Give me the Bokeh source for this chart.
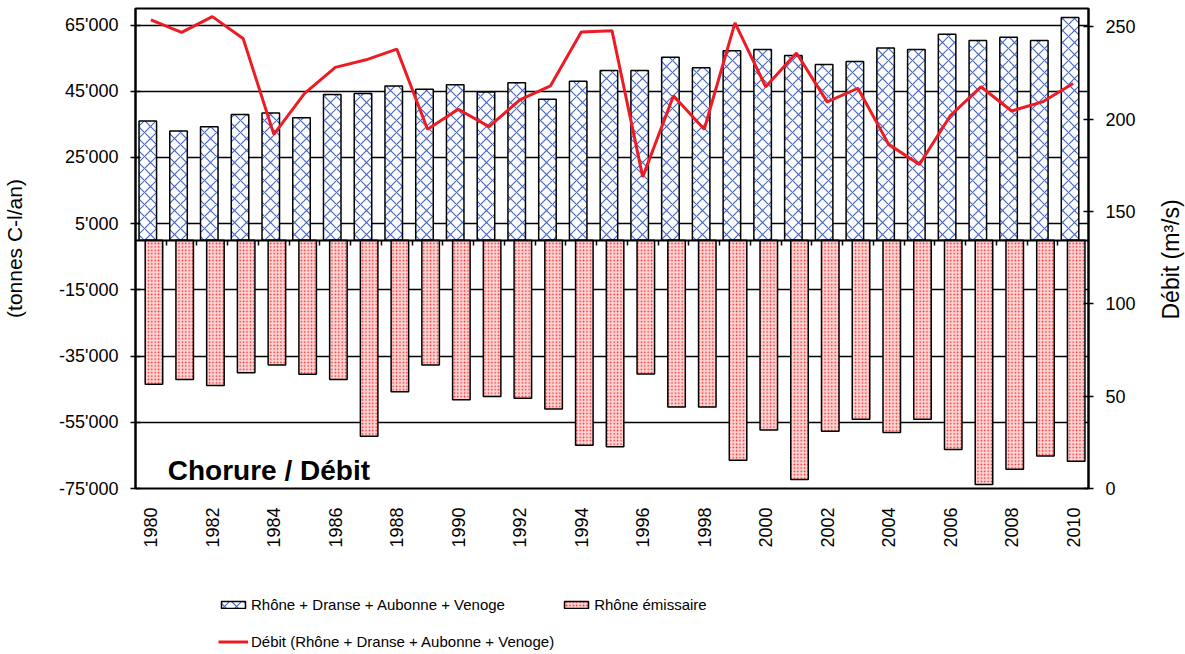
import math
from bokeh.plotting import figure
from bokeh.layouts import row, column
from bokeh.models import (ColumnDataSource, Range1d, LinearAxis, FixedTicker,
                          Legend, LegendItem, Label)
from bokeh.transform import dodge
from bokeh.embed import file_html
from bokeh.resources import INLINE

# ---------------- data ----------------
years = [1980, 1981, 1982, 1983, 1984, 1985, 1986, 1987, 1988, 1989,
         1990, 1991, 1992, 1993, 1994, 1995, 1996, 1997, 1998, 1999,
         2000, 2001, 2002, 2003, 2004, 2005, 2006, 2007, 2008, 2009, 2010]

# Rhône + Dranse + Aubonne + Venoge (tonnes Cl-/an)
apports = [36000, 33000, 34300, 38000, 38400, 37000, 44000, 44300, 46600, 45600,
           47000, 44800, 47600, 42600, 48000, 51300, 51300, 55300, 52100, 57200,
           57600, 55800, 53100, 54000, 58100, 57600, 62200, 60300, 61300, 60300,
           67300]

# Rhône émissaire (tonnes Cl-/an, sortie)
emissaire = [-43500, -42100, -43900, -40000, -37700, -40500, -42100, -59200, -45800, -37700,
             -48200, -47200, -47700, -51000, -61900, -62400, -40400, -50400, -50400, -66500,
             -57300, -72300, -57700, -54100, -58100, -54100, -63200, -73800, -69200, -65200,
             -66800]

# Débit (m3/s)
debit = [253.8, 247.1, 255.6, 243.8, 191.8, 214.0, 228.1, 232.2, 238.0, 194.6,
         205.4, 196.0, 210.5, 218.1, 247.3, 248.0, 168.8, 212.7, 194.6, 252.2,
         217.6, 235.9, 209.4, 216.8, 186.4, 175.5, 201.8, 217.6, 204.5, 209.4,
         219.4]

left_ticks = [-75000, -55000, -35000, -15000, 5000, 25000, 45000, 65000]
left_labels = ["-75'000", "-55'000", "-35'000", "-15'000", "5'000", "25'000", "45'000", "65'000"]
right_ticks = [0, 50, 100, 150, 200, 250]
year_ticks = [1980, 1982, 1984, 1986, 1988, 1990, 1992, 1994, 1996, 1998,
              2000, 2002, 2004, 2006, 2008, 2010]

label_blue = "Rhône + Dranse + Aubonne + Venoge"
label_red = "Rhône émissaire"
label_line = "Débit (Rhône + Dranse + Aubonne + Venoge)"
chart_title = "Chorure / Débit"
y_left_title = "(tonnes C-l/an)"
y_right_title = "Débit (m³/s)"

FONT = "Liberation Sans"

BLUE_STYLE = dict(fill_color="white", hatch_pattern="diagonal_cross", hatch_color="#4a68c0",
                  hatch_scale=12, hatch_weight=1.2, line_color="black", line_width=1.5)
RED_STYLE = dict(fill_color="#ffd6d6", hatch_pattern="dot", hatch_color="#f42a2a",
                 hatch_scale=3.4, hatch_weight=2.5, line_color="black", line_width=1.5)
LINE_STYLE = dict(line_color="#ed1c24", line_width=3)

src = ColumnDataSource(dict(year=years, apports=apports, emissaire=emissaire, debit=debit))

TOP_H = 570

p = figure(width=1150, height=TOP_H, output_backend="svg", toolbar_location=None,
           x_range=Range1d(years[0] - 0.5, years[-1] + 0.5),
           y_range=Range1d(-75000, 70000),
           x_axis_location=None, y_axis_location="left",
           min_border_left=135, min_border_right=62,
           min_border_top=8, min_border_bottom=TOP_H - 488)
p.extra_y_ranges = {"right": Range1d(0, 260)}
p.outline_line_color = "black"
p.outline_line_width = 2
p.background_fill_color = "white"
p.xgrid.visible = False

# left axis
lt = FixedTicker(ticks=left_ticks)
ya = p.yaxis[0]
ya.ticker = lt
ya.major_label_overrides = {t: l for t, l in zip(left_ticks, left_labels)}
ya.minor_tick_line_color = None
ya.major_tick_in = 5
ya.major_tick_out = 5
ya.major_tick_line_width = 1.5
ya.axis_line_width = 2
ya.axis_line_color = "black"
ya.major_label_standoff = 12
ya.major_label_text_font = FONT
ya.major_label_text_font_size = "18px"
ya.major_label_text_color = "black"
ya.axis_label = y_left_title
ya.axis_label_text_font = FONT
ya.axis_label_text_font_size = "21px"
ya.axis_label_text_font_style = "normal"
ya.axis_label_text_color = "black"
ya.axis_label_standoff = 30
p.ygrid.ticker = lt
p.ygrid.grid_line_color = "black"
p.ygrid.grid_line_width = 1.5

# right axis
ra = LinearAxis(y_range_name="right", ticker=FixedTicker(ticks=right_ticks))
ra.minor_tick_line_color = None
ra.major_tick_in = 5
ra.major_tick_out = 5
ra.major_tick_line_width = 1.5
ra.axis_line_width = 2
ra.axis_line_color = "black"
ra.major_label_standoff = 12
ra.major_label_text_font = FONT
ra.major_label_text_font_size = "18px"
ra.major_label_text_color = "black"
p.add_layout(ra, "right")

# bottom year labels
xa = LinearAxis(ticker=FixedTicker(ticks=year_ticks))
xa.major_label_overrides = {y: str(y) for y in year_ticks}
xa.major_label_orientation = math.pi / 2
xa.axis_line_color = None
xa.major_tick_line_color = None
xa.minor_tick_line_color = None
xa.major_label_standoff = 13
xa.major_label_text_font = FONT
xa.major_label_text_font_size = "18px"
xa.major_label_text_color = "black"
p.add_layout(xa, "below")

# zero-line axis with ticks between categories
za = LinearAxis(fixed_location=0, ticker=FixedTicker(ticks=[y + 0.5 for y in years[:-1]]))
za.axis_line_width = 2
za.axis_line_color = "black"
za.major_tick_in = 0
za.major_tick_out = 5
za.major_tick_line_width = 1.5
za.major_tick_line_color = "black"
za.minor_tick_line_color = None
za.major_label_text_font_size = "1px"
za.major_label_text_color = None
za.major_label_standoff = 0
p.add_layout(za, "below")

# bars and line
p.vbar(x=dodge("year", -0.1), top="apports", bottom=0, width=0.57, source=src, **BLUE_STYLE)
p.vbar(x=dodge("year", 0.1), top=0, bottom="emissaire", width=0.57, source=src, **RED_STYLE)
p.line(x="year", y="debit", y_range_name="right", source=src, **LINE_STYLE)

p.add_layout(Label(x=1980.55, y=-69500, text=chart_title, text_font=FONT,
                   text_font_size="28px", text_font_style="bold",
                   text_baseline="alphabetic", text_color="black"))

# narrow side figure carrying the right axis title (reads bottom-to-top)
p2 = figure(width=35, height=TOP_H, output_backend="svg", toolbar_location=None,
            x_range=Range1d(0, 35), y_range=Range1d(0, TOP_H),
            x_axis_location=None, y_axis_location=None,
            min_border_left=0, min_border_right=0, min_border_top=0, min_border_bottom=0)
p2.outline_line_color = None
p2.grid.visible = False
p2.add_layout(Label(x=20, y=272, angle=math.pi / 2, text=y_right_title, text_font=FONT,
                    text_font_size="23px", text_align="center", text_baseline="middle",
                    text_color="black"))

# legend strip below the chart (its renderers are hidden; only the legend shows)
LEG_H = 654 - TOP_H
pl = figure(width=1185, height=LEG_H, output_backend="svg", toolbar_location=None,
            x_range=Range1d(1979, 2011), y_range=Range1d(-80000, 80000),
            x_axis_location=None, y_axis_location=None,
            min_border_left=0, min_border_right=0, min_border_top=0, min_border_bottom=0)
pl.outline_line_color = None
pl.grid.visible = False
lb = pl.vbar(x="year", top="apports", width=0.57, source=src, visible=False, **BLUE_STYLE)
lr = pl.vbar(x="year", top="emissaire", width=0.57, source=src, visible=False, **RED_STYLE)
ll = pl.line(x="year", y="apports", source=src, visible=False, **LINE_STYLE)
legend = Legend(items=[LegendItem(label=label_blue, renderers=[lb]),
                       LegendItem(label=label_red, renderers=[lr]),
                       LegendItem(label=label_line, renderers=[ll])],
                orientation="horizontal", ncols=2, location=(218, -2),
                padding=0, margin=0, spacing=7, label_standoff=3,
                glyph_width=30, glyph_height=9, label_height=30,
                label_text_font=FONT, label_text_font_size="15px",
                label_text_color="black", inactive_fill_alpha=0,
                border_line_color=None, background_fill_alpha=0)
pl.add_layout(legend)

layout = column(row(p, p2, spacing=0), pl, spacing=0)
open("out.html", "w").write(file_html(layout, INLINE))
